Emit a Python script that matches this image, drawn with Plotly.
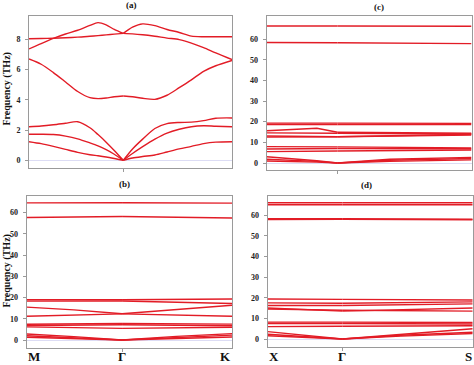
import plotly.graph_objects as go

# ---------------- data ----------------
# normalized k-path coordinate of Gamma in each panel
gamma_a = 0.4645
gamma_b = 0.4645
gamma_c = 0.346
gamma_d = 0.364

# panel (a): k grid and 6 band pairs (THz)
k_a = [0, .06, .12, .18, .24, .30, .34, .38, .42, .4645, .51, .56, .62, .68, .74, .80, .86, .92, 1.0]
band_a1 = [1.23, 1.10, 0.92, 0.72, 0.52, 0.37, 0.30, 0.22, 0.12, 0.0, 0.15, 0.25, 0.35, 0.55, 0.75, 0.92, 1.10, 1.20, 1.23]
band_a2 = [1.72, 1.72, 1.70, 1.60, 1.42, 1.15, 0.95, 0.70, 0.40, 0.0, 0.45, 0.90, 1.40, 1.80, 2.05, 2.22, 2.28, 2.25, 2.22]
band_a3 = [2.22, 2.27, 2.35, 2.45, 2.55, 2.15, 1.70, 1.20, 0.65, 0.0, 0.75, 1.40, 2.10, 2.42, 2.50, 2.52, 2.62, 2.78, 2.80]
band_a4 = [6.70, 6.35, 5.80, 5.18, 4.55, 4.14, 4.08, 4.12, 4.20, 4.25, 4.20, 4.10, 4.03, 4.30, 4.80, 5.32, 5.88, 6.25, 6.60]
band_a5 = [8.04, 8.05, 8.07, 8.10, 8.14, 8.20, 8.24, 8.29, 8.34, 8.39, 8.36, 8.30, 8.20, 8.08, 7.98, 7.75, 7.45, 7.10, 6.66]
band_a6 = [7.36, 7.72, 8.06, 8.35, 8.60, 8.92, 9.10, 8.95, 8.65, 8.39, 8.80, 9.02, 8.90, 8.65, 8.45, 8.21, 8.17, 8.17, 8.17]
bands_a = [band_a1, band_a2, band_a3, band_a4, band_a5, band_a6]

# panel (b)
k_b = [0, 0.23, 0.4645, 0.73, 1.0]
bands_b = [
    [64.6, 64.6, 64.7, 64.6, 64.5],
    [57.7, 58.0, 58.2, 57.9, 57.5],
    [19.0, 19.0, 19.0, 19.1, 19.3],
    [18.3, 18.3, 18.4, 17.8, 17.2],
    [15.5, 14.2, 12.4, 14.3, 16.4],
    [11.2, 11.8, 12.3, 11.7, 11.2],
    [7.4, 7.6, 7.8, 7.6, 7.5],
    [6.8, 7.0, 7.2, 7.0, 6.7],
    [6.2, 5.8, 5.5, 5.8, 6.0],
    [2.8, 1.6, 0.0, 1.7, 3.0],
    [2.0, 1.1, 0.0, 1.3, 2.3],
    [1.3, 0.8, 0.0, 0.8, 1.4],
]

# panel (c)
k_c = [0, 0.17, 0.245, 0.346, 0.6, 1.0]
bands_c = [
    [66.3, 66.3, 66.3, 66.3, 66.2, 66.2],
    [58.3, 58.3, 58.2, 58.2, 58.0, 57.8],
    [19.3, 19.3, 19.3, 19.3, 19.3, 19.2],
    [18.6, 18.6, 18.6, 18.6, 18.6, 18.6],
    [15.6, 16.3, 16.8, 14.9, 14.7, 14.4],
    [14.6, 14.6, 14.6, 14.4, 14.2, 14.0],
    [13.1, 13.0, 12.9, 12.7, 13.2, 13.9],
    [12.5, 12.6, 12.6, 12.7, 13.0, 13.5],
    [7.9, 7.9, 7.9, 7.8, 7.6, 7.3],
    [6.8, 6.8, 6.8, 7.0, 7.0, 6.9],
    [5.5, 5.6, 5.7, 5.8, 6.0, 6.3],
    [3.0, 1.8, 1.1, 0.0, 1.8, 2.7],
    [1.8, 1.2, 0.8, 0.0, 1.3, 2.2],
    [1.0, 0.7, 0.4, 0.0, 0.8, 1.5],
]

# panel (d)
k_d = [0, 0.18, 0.364, 0.65, 1.0]
bands_d = [
    [65.9, 65.9, 65.9, 65.9, 65.9],
    [65.0, 65.0, 65.0, 65.0, 65.0],
    [58.2, 58.2, 58.2, 58.1, 58.0],
    [57.8, 57.8, 57.9, 57.8, 57.7],
    [19.4, 19.3, 19.2, 19.0, 18.9],
    [17.5, 17.4, 17.3, 17.6, 18.0],
    [16.2, 16.2, 16.2, 16.6, 17.0],
    [15.0, 14.3, 13.5, 14.3, 15.0],
    [14.5, 14.2, 13.9, 13.7, 13.5],
    [8.2, 8.2, 8.2, 8.1, 8.0],
    [7.5, 7.5, 7.5, 7.4, 7.3],
    [6.0, 6.1, 6.2, 6.3, 6.4],
    [3.6, 1.8, 0.0, 2.4, 5.0],
    [2.3, 1.2, 0.0, 1.8, 3.3],
    [1.6, 0.9, 0.0, 1.4, 2.7],
]

labels_b = ["M", "Γ", "K"]
labels_d = ["X", "Γ", "S"]
panel_titles = ["(a)", "(b)", "(c)", "(d)"]
ytitle = "Frequency (THz)"

# ---------------- figure ----------------
RED = "rgb(226,28,38)"
fig = go.Figure()


def add_split(k, band, gk, xa, ya, spline):
    left_k = [x for x in k if x <= gk]
    left_v = band[:len(left_k)]
    right_k = [x for x in k if x >= gk]
    right_v = band[len(k) - len(right_k):]
    for kk, vv in ((left_k, left_v), (right_k, right_v)):
        fig.add_trace(go.Scatter(
            x=kk, y=vv, mode="lines", xaxis=xa, yaxis=ya, showlegend=False,
            hoverinfo="skip",
            line=dict(color=RED, width=1.4, shape="spline" if spline else "linear",
                      smoothing=0.8),
        ))


for b in bands_a:
    add_split(k_a, b, gamma_a, "x", "y", True)
for b in bands_b:
    add_split(k_b, b, gamma_b, "x2", "y2", False)
for b in bands_c:
    add_split(k_c, b, gamma_c, "x3", "y3", False)
for b in bands_d:
    add_split(k_d, b, gamma_d, "x4", "y4", False)

W, H = 474, 365
TF = dict(family="Liberation Serif", size=8, color="#222", weight="bold")


def xd(px0, px1):
    return [px0 / W, px1 / W]


def yd(top, bottom):
    return [1 - bottom / H, 1 - top / H]


axcommon = dict(showline=True, linecolor="#9a9a9a", linewidth=1, mirror=True,
                showgrid=False, ticks="outside", ticklen=3, tickcolor="#9a9a9a",
                tickfont=TF)
ycommon = dict(axcommon, zeroline=True, zerolinecolor="#dcdcf4", zerolinewidth=1,
               ticklabelstandoff=3)
xcommon = dict(axcommon, zeroline=False, range=[0, 1], showticklabels=False)

fig.update_layout(
    width=W, height=H, margin=dict(l=0, r=0, t=0, b=0),
    paper_bgcolor="white", plot_bgcolor="white",
    xaxis=dict(xcommon, domain=xd(29, 232), anchor="y", tickvals=[gamma_a]),
    yaxis=dict(ycommon, domain=yd(16, 168.3), anchor="x", range=[-0.53, 9.54],
               tickvals=[0, 2, 4, 6, 8]),
    xaxis2=dict(xcommon, domain=xd(26.7, 232), anchor="y2", tickvals=[gamma_b]),
    yaxis2=dict(ycommon, domain=yd(195.7, 347.7), anchor="x2", range=[-3.63, 68.0],
                tickvals=[0, 10, 20, 30, 40, 50, 60]),
    xaxis3=dict(xcommon, domain=xd(266.7, 471.5), anchor="y3", tickvals=[gamma_c]),
    yaxis3=dict(ycommon, domain=yd(16, 170), anchor="x3", range=[-3.39, 71.15],
                tickvals=[0, 10, 20, 30, 40, 50, 60]),
    xaxis4=dict(xcommon, domain=xd(267.7, 472.7), anchor="y4", tickvals=[gamma_d]),
    yaxis4=dict(ycommon, domain=yd(196, 347.3), anchor="x4", range=[-4.0, 69.2],
                tickvals=[0, 10, 20, 30, 40, 50, 60]),
)

LF = dict(family="Liberation Serif", size=13, color="#111", weight="bold")
ann = []
for lab, xv, anc in zip(labels_b, [0, gamma_b, 1], ["left", "center", "right"]):
    ann.append(dict(text=lab, x=xv, xref="x2", y=1 - 364.5 / H, yref="paper",
                    xanchor=anc, yanchor="bottom", showarrow=False, font=LF,
                    borderpad=0))
for lab, xv, anc in zip(labels_d, [0, gamma_d, 1], ["left", "center", "right"]):
    ann.append(dict(text=lab, x=xv, xref="x4", y=1 - 364.5 / H, yref="paper",
                    xanchor=anc, yanchor="bottom", showarrow=False, font=LF,
                    borderpad=0))

TT = dict(family="Liberation Serif", size=9, color="#111", weight="bold")
for t, (px, py) in zip(panel_titles, [(131, 5), (124, 184), (379, 7), (366, 185)]):
    ann.append(dict(text=t, x=px / W, y=1 - py / H, xref="paper", yref="paper",
                    xanchor="center", yanchor="middle", showarrow=False, font=TT))

YF = dict(family="Liberation Serif", size=10, color="#111", weight="bold")
for py in (89, 271):
    ann.append(dict(text=ytitle, x=6.5 / W, y=1 - py / H, xref="paper", yref="paper",
                    textangle=-90, xanchor="center", yanchor="middle",
                    showarrow=False, font=YF, borderpad=0))

fig.update_layout(annotations=ann)
fig.write_html(
    "out.html",
    config={"displayModeBar": False},
    post_script="document.body.style.margin='0';document.body.style.overflow='hidden';",
)
